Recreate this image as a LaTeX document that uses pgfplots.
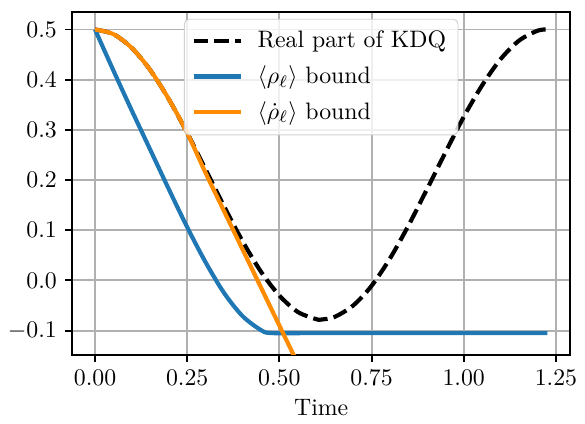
\documentclass[border=0pt]{standalone}
\usepackage{pgfplots}
\pgfplotsset{compat=1.18}
\definecolor{mplblue}{HTML}{1F77B4}
\definecolor{mplorange}{HTML}{FF8C00}
\definecolor{gridgray}{HTML}{B0B0B0}

\begin{document}
\begin{tikzpicture}
\begin{axis}[
  scale only axis,
  width=209pt, height=144pt,
  xmin=-0.0613, xmax=1.288,
  ymin=-0.148, ymax=0.535,
  xtick={0,0.25,0.5,0.75,1,1.25},
  ytick={-0.1,0,0.1,0.2,0.3,0.4,0.5},
  xticklabel style={/pgf/number format/.cd, fixed, fixed zerofill, precision=2},
  yticklabel style={/pgf/number format/.cd, fixed, fixed zerofill, precision=1},
  grid=major,
  grid style={color=gridgray, line width=0.8pt},
  axis line style={line width=0.8pt},
  tick align=outside, tick pos=left,
  major tick length=3pt,
  tick style={black, line width=0.8pt},
  xlabel={Time},
  xlabel style={yshift=1pt},
  legend style={at={(0.5,0.98)}, anchor=north, draw=black!18,
    rounded corners=2pt, fill=white, fill opacity=0.8, text opacity=1,
    row sep=2pt, inner xsep=3pt, inner ysep=3pt},
  legend cell align=left,
  legend image code/.code={\draw[#1] (0pt,0pt) -- (20pt,0pt); \path (24pt,0pt);},
]
% real part of KDQ
\addplot[black, line width=1.75pt, dash pattern=on 6.1pt off 2.6pt, smooth] coordinates {
 (0.00,0.5000) (0.05,0.4906) (0.10,0.4630) (0.15,0.4189) (0.20,0.3613)
 (0.25,0.2939) (0.30,0.2211) (0.35,0.1476) (0.40,0.0783) (0.45,0.0175)
 (0.50,-0.0302) (0.55,-0.0629) (0.60,-0.0773) (0.6135,-0.0780) (0.65,-0.0727)
 (0.70,-0.0501) (0.75,-0.0109) (0.80,0.0438) (0.85,0.1092) (0.90,0.1813)
 (0.95,0.2546) (1.00,0.3259) (1.05,0.3888) (1.10,0.4409) (1.15,0.4778)
 (1.20,0.4975) (1.227,0.5000)
};
\addlegendentry{Real part of KDQ}
% rho bound
\addplot[mplblue, line width=1.75pt, smooth] coordinates {
 (0.00,0.500) (0.05,0.418) (0.10,0.338) (0.15,0.260) (0.20,0.182)
 (0.25,0.106) (0.30,0.036) (0.35,-0.025) (0.40,-0.071) (0.45,-0.099)
 (0.48,-0.105) (0.60,-0.105) (0.90,-0.105) (1.227,-0.105)
};
\addlegendentry{$\langle\rho_\ell\rangle$ bound}
% rho-dot bound
\addplot[mplorange, line width=1.75pt, smooth] coordinates {
 (0.00,0.5000) (0.05,0.4906) (0.10,0.4630) (0.15,0.4189) (0.20,0.3613)
 (0.25,0.2939) (0.30,0.214) (0.35,0.138) (0.40,0.062) (0.45,-0.014)
 (0.50,-0.090) (0.56,-0.181)
};
\addlegendentry{$\langle\dot\rho_\ell\rangle$ bound}
\end{axis}
\path ([yshift=5pt]current axis.north);
\end{tikzpicture}
\end{document}
